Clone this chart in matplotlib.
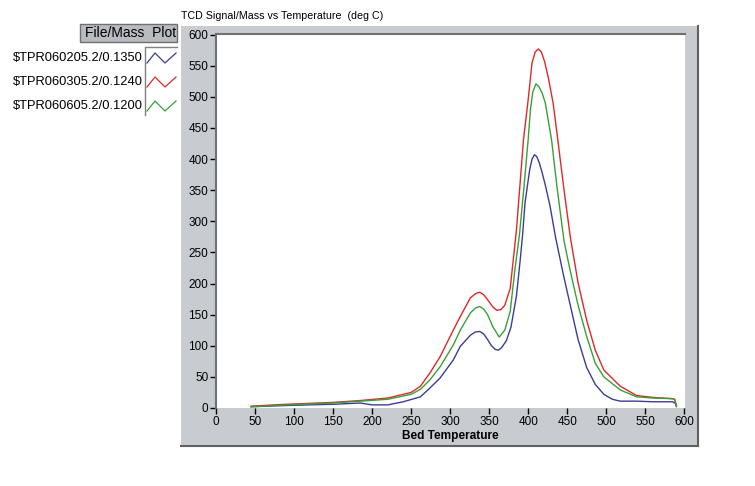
import matplotlib
matplotlib.use("Agg")
import matplotlib.pyplot as plt
from matplotlib.patches import Rectangle
from matplotlib.lines import Line2D

plt.rcParams['font.family'] = ['Liberation Sans', 'DejaVu Sans']

labels = ["$TPR060205.2/0.1350", "$TPR060305.2/0.1240", "$TPR060605.2/0.1200"]
colors = ["#3C3C96", "#E02828", "#38A038"]

blue_t = [45, 90, 150, 185, 200, 220, 240, 262, 274, 287, 304, 313, 326, 332, 338, 343, 348, 353, 358, 362, 366, 372, 378, 385, 390, 393, 396, 402, 405, 408, 411, 414, 418, 422, 428, 435, 445, 454, 464, 475, 486, 497, 508, 518, 539, 560, 585, 588, 590]
blue_v = [2, 4, 6, 8, 5, 5, 10, 18, 32, 48, 77, 99, 117, 122, 123, 119, 110, 100, 94, 93, 97, 108, 130, 180, 240, 280, 330, 383, 400, 407, 404, 395, 378, 358, 325, 275, 215, 165, 110, 65, 38, 22, 14, 11, 11, 10, 10, 8, 4]

red_t = [45, 90, 150, 185, 220, 250, 262, 274, 287, 304, 313, 326, 333, 338, 343, 348, 355, 360, 365, 370, 377, 385, 394, 400, 405, 409, 413, 417, 421, 426, 432, 438, 446, 454, 464, 475, 486, 497, 518, 539, 560, 585, 588, 590]
red_v = [3, 6, 9, 12, 16, 25, 35, 56, 82, 125, 147, 177, 184, 186, 182, 174, 162, 157, 158, 165, 192, 286, 431, 495, 555, 572, 577, 572, 557, 530, 490, 431, 350, 275, 201, 141, 93, 61, 35, 20, 17, 15, 14, 2]

green_t = [45, 90, 150, 185, 220, 250, 262, 274, 287, 304, 313, 326, 333, 338, 343, 348, 355, 363, 370, 377, 383, 389, 395, 400, 403, 406, 410, 414, 418, 422, 430, 437, 446, 454, 464, 475, 486, 497, 518, 539, 560, 585, 588, 590]
green_v = [2, 5, 8, 11, 14, 22, 30, 45, 66, 101, 125, 153, 161, 163, 159, 150, 130, 114, 125, 155, 222, 280, 360, 431, 480, 508, 521, 516, 506, 490, 431, 355, 268, 220, 165, 115, 72, 50, 29, 18, 16, 15, 13, 3]

series = [(blue_t, blue_v), (red_t, red_v), (green_t, green_v)]

x_ticks = list(range(0, 601, 50))
y_ticks = list(range(0, 601, 50))

W, H = 755, 486
fig = plt.figure(figsize=(W / 100, H / 100), dpi=100)
fig.patch.set_facecolor("white")

def fx(px):
    return px / W

def fy(py):
    return 1 - py / H

grey = "#C8CCD0"
# outer grey panel
panel = Rectangle((fx(181), fy(446)), fx(698) - fx(181), fy(26) - fy(446),
                  transform=fig.transFigure, facecolor=grey, edgecolor="none", zorder=-10)
fig.patches.append(panel)
fig.add_artist(Line2D([fx(698), fx(698)], [fy(446), fy(26)], color="#606060", lw=1.5, zorder=-5))
fig.add_artist(Line2D([fx(181), fx(698)], [fy(446), fy(446)], color="#606060", lw=1.5, zorder=-5))

fig.text(fx(181), fy(16), "TCD Signal/Mass vs Temperature  (deg C)", fontsize=7.7,
         ha="left", va="center")

ax = fig.add_axes([fx(216), fy(408), fx(685) - fx(216), fy(34) - fy(408)])
ax.set_facecolor("white")
for (t, v), c in zip(series, colors):
    ax.plot(t, v, color=c, lw=1.0)
ax.set_xlim(0, 601)
ax.set_ylim(0, 601)
ax.set_xticks(x_ticks)
ax.set_yticks(y_ticks)
ax.tick_params(axis="both", labelsize=8.5, length=4, width=1, color="#000000", pad=1.5)
ax.spines["right"].set_visible(False)
ax.spines["bottom"].set_visible(False)
ax.spines["left"].set_color("#707070")
ax.spines["left"].set_linewidth(1.5)
ax.spines["top"].set_color("#707070")
ax.spines["top"].set_linewidth(1.5)
ax.set_xlabel("Bed Temperature", fontsize=8.6, fontweight="bold", labelpad=2)

# legend
hdr = Rectangle((fx(80), fy(42)), fx(177) - fx(80), fy(24) - fy(42),
                transform=fig.transFigure, facecolor="#B8BCC0", edgecolor="#707070", lw=1)
fig.patches.append(hdr)
fig.text(fx(176), fy(33), "File/Mass  Plot", fontsize=10, ha="right", va="center")
fig.add_artist(Line2D([fx(145), fx(145), fx(177)], [fy(115), fy(47), fy(47)], color="#808080", lw=1))
rows = [58, 82, 106]
for lab, c, yc in zip(labels, colors, rows):
    fig.text(fx(143), fy(yc), lab, fontsize=9.3, ha="right", va="center")
    xs = [fx(147), fx(155), fx(165), fx(176)]
    ys = [fy(yc + 5), fy(yc - 5), fy(yc + 5), fy(yc - 5)]
    fig.add_artist(Line2D(xs, ys, color=c, lw=0.9))

fig.savefig("out.png", dpi=100, facecolor="white")
